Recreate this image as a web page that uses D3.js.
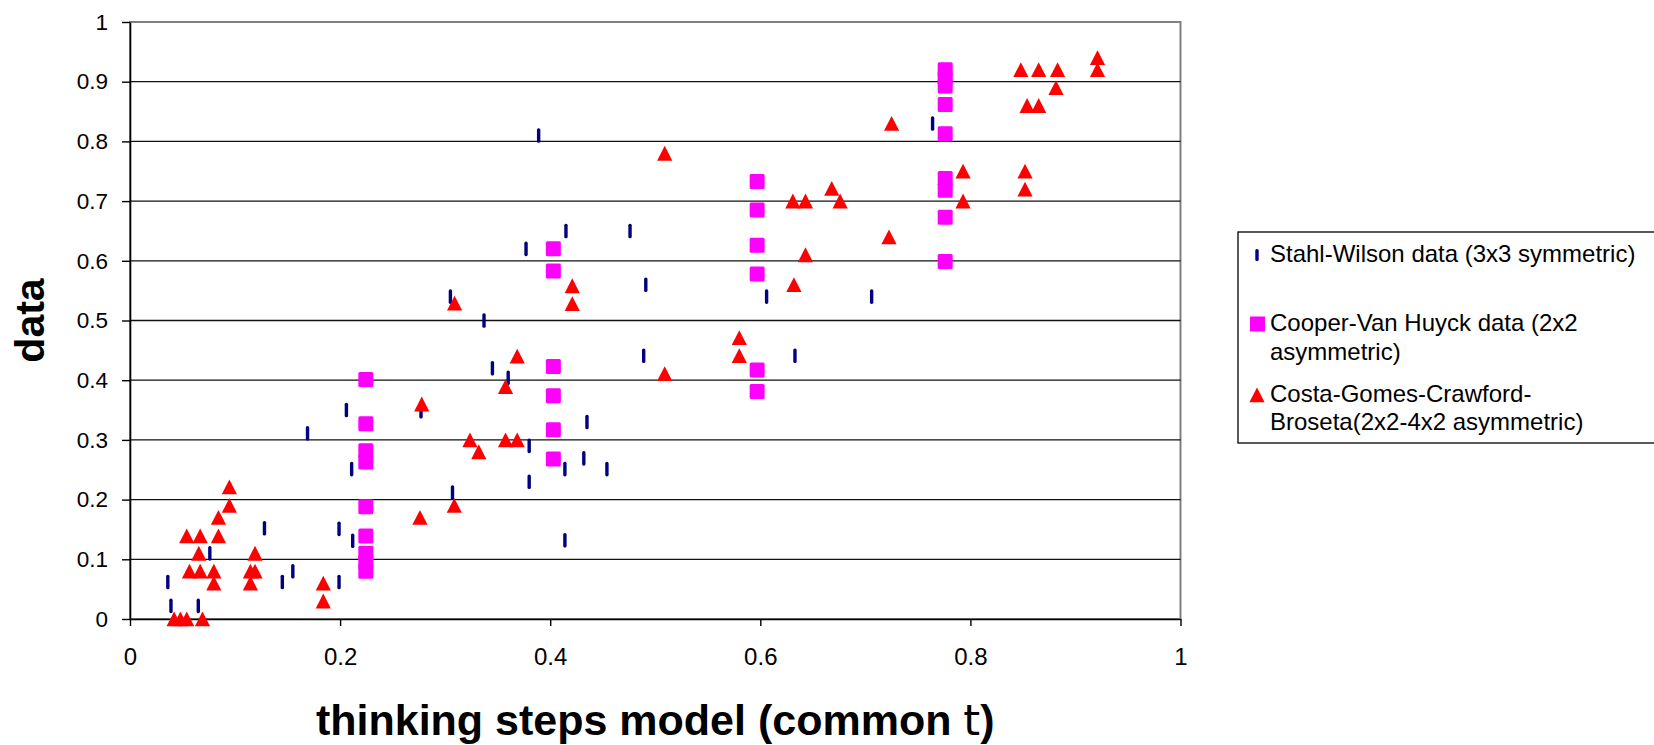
<!DOCTYPE html>
<html>
<head>
<meta charset="utf-8">
<script src="https://cdnjs.cloudflare.com/ajax/libs/d3/7.8.5/d3.min.js"></script>
<style>
  body { margin: 0; background: #fff; }
  text { font-family: Arial, "Liberation Sans", sans-serif; fill: #000; }
</style>
</head>
<body>
<div id="scatter"></div>
<script>
// x = thinking steps model (common t), y = observed data
var stahlX = [0.036, 0.039, 0.065, 0.076, 0.128, 0.145, 0.155, 0.169, 0.199, 0.199, 0.206, 0.211,
  0.212, 0.277, 0.305, 0.307, 0.337, 0.345, 0.360, 0.377, 0.380, 0.380, 0.389, 0.414, 0.414,
  0.415, 0.432, 0.435, 0.454, 0.476, 0.489, 0.491, 0.606, 0.633, 0.706, 0.764];
var stahlY = [0.062, 0.022, 0.022, 0.110, 0.152, 0.062, 0.080, 0.311, 0.151, 0.062, 0.350, 0.251,
  0.131, 0.348, 0.540, 0.212, 0.500, 0.420, 0.404, 0.620, 0.290, 0.230, 0.810, 0.251, 0.132,
  0.650, 0.269, 0.330, 0.251, 0.650, 0.441, 0.560, 0.540, 0.441, 0.540, 0.830];

var cooperX = [0.2245, 0.2245, 0.2245, 0.2245, 0.2245, 0.2245, 0.2245, 0.2245, 0.2245,
  0.403, 0.403, 0.403, 0.403, 0.403, 0.403,
  0.597, 0.597, 0.597, 0.597, 0.597, 0.597,
  0.776, 0.776, 0.776, 0.776, 0.776, 0.776, 0.776, 0.776, 0.776];
var cooperY = [0.401, 0.327, 0.282, 0.263, 0.188, 0.139, 0.110, 0.095, 0.080,
  0.620, 0.583, 0.423, 0.374, 0.317, 0.268,
  0.733, 0.685, 0.626, 0.578, 0.417, 0.381,
  0.920, 0.906, 0.893, 0.862, 0.813, 0.738, 0.718, 0.673, 0.599];

var costaX = [0.0946, 0.0946, 0.0842, 0.0842, 0.054, 0.0668, 0.0655, 0.119, 0.0566, 0.0668, 0.0798,
  0.1146, 0.119, 0.0798, 0.1146, 0.184, 0.184, 0.042, 0.048, 0.054, 0.069,
  0.276, 0.3087, 0.3236, 0.332, 0.3575, 0.3686, 0.2777, 0.3575, 0.3686, 0.309, 0.421, 0.421,
  0.725, 0.509, 0.668, 0.631, 0.643, 0.676, 0.7225, 0.643, 0.632, 0.580, 0.580, 0.509,
  0.921, 0.921, 0.848, 0.865, 0.883, 0.8815, 0.854, 0.865, 0.793, 0.852, 0.852, 0.793];
var costaY = [0.221, 0.190, 0.170, 0.139, 0.139, 0.139, 0.110, 0.110, 0.080, 0.080, 0.080,
  0.080, 0.080, 0.060, 0.060, 0.060, 0.030, 0, 0, 0, 0,
  0.170, 0.190, 0.300, 0.280, 0.300, 0.300, 0.360, 0.389, 0.440, 0.529, 0.558, 0.528,
  0.830, 0.780, 0.721, 0.700, 0.700, 0.700, 0.640, 0.610, 0.560, 0.471, 0.441, 0.411,
  0.940, 0.920, 0.920, 0.920, 0.920, 0.890, 0.860, 0.860, 0.750, 0.750, 0.720, 0.700];

var xTicks = [0, 0.2, 0.4, 0.6, 0.8, 1];
var yTicks = [0, 0.1, 0.2, 0.3, 0.4, 0.5, 0.6, 0.7, 0.8, 0.9, 1];

var legendLabels = [
  ["Stahl-Wilson data (3x3 symmetric)"],
  ["Cooper-Van Huyck data (2x2", "asymmetric)"],
  ["Costa-Gomes-Crawford-", "Broseta(2x2-4x2 asymmetric)"]
];

var svgWidth = 1654;
var svgHeight = 745;

var margin = { top: 22, left: 130 };
var width = 1050.5;
var height = 597;

var svg = d3.select("#scatter")
  .append("svg")
  .attr("width", svgWidth)
  .attr("height", svgHeight)
  .style("display", "block");

var chartGroup = svg.append("g")
  .attr("transform", `translate(${margin.left}, ${margin.top})`);

var xLinearScale = d3.scaleLinear().domain([0, 1]).range([0, width]);
var yLinearScale = d3.scaleLinear().domain([0, 1]).range([height, 0]);

// plot frame (grey, top + right show)
chartGroup.append("rect")
  .attr("x", 0)
  .attr("y", 0)
  .attr("width", width)
  .attr("height", height)
  .attr("fill", "none")
  .attr("stroke", "#808080")
  .attr("stroke-width", 2);

// horizontal gridlines
chartGroup.selectAll(".grid")
  .data(yTicks.filter(d => d > 0 && d < 1))
  .enter()
  .append("line")
  .attr("class", "grid")
  .attr("x1", 0)
  .attr("x2", width)
  .attr("y1", d => yLinearScale(d))
  .attr("y2", d => yLinearScale(d))
  .attr("stroke", "#111")
  .attr("stroke-width", 1.3);

// axes
var yAxis = d3.axisLeft(yLinearScale)
  .tickValues(yTicks)
  .tickFormat(d3.format("~g"))
  .tickSizeInner(8)
  .tickSizeOuter(0)
  .tickPadding(14);

var xAxis = d3.axisBottom(xLinearScale)
  .tickValues(xTicks)
  .tickFormat(d3.format("~g"))
  .tickSizeInner(7)
  .tickSizeOuter(0)
  .tickPadding(22);

var yAxisG = chartGroup.append("g").call(yAxis);
var xAxisG = chartGroup.append("g")
  .attr("transform", `translate(0, ${height})`)
  .call(xAxis);

[yAxisG, xAxisG].forEach(function(g) {
  g.select(".domain").attr("stroke", "#000").attr("stroke-width", 1.6);
  g.selectAll(".tick line").attr("stroke", "#000").attr("stroke-width", 1.4);
  g.selectAll("text").attr("fill", "#000").style("font-family", "Arial, 'Liberation Sans', sans-serif");
});
yAxisG.selectAll("text").style("font-size", "22.5px");
xAxisG.selectAll("text").style("font-size", "24px");

// Stahl-Wilson: navy dashes
chartGroup.selectAll(".stahl")
  .data(stahlX.map((x, i) => ({ x: x, y: stahlY[i] })))
  .enter()
  .append("rect")
  .attr("class", "stahl")
  .attr("x", d => xLinearScale(d.x) - 1.7)
  .attr("y", d => yLinearScale(d.y) - 7.3)
  .attr("width", 3.4)
  .attr("height", 14.6)
  .attr("rx", 1.6)
  .attr("fill", "#000080");

// Cooper-Van Huyck: magenta squares
chartGroup.selectAll(".cooper")
  .data(cooperX.map((x, i) => ({ x: x, y: cooperY[i] })))
  .enter()
  .append("rect")
  .attr("class", "cooper")
  .attr("x", d => xLinearScale(d.x) - 7.5)
  .attr("y", d => yLinearScale(d.y) - 7.5)
  .attr("width", 15)
  .attr("height", 15)
  .attr("rx", 1.5)
  .attr("fill", "#ff00ff");

// Costa-Gomes-Crawford-Broseta: red triangles
var tri = "M0,-7.5L7.6,7.3L-7.6,7.3Z";
chartGroup.selectAll(".costa")
  .data(costaX.map((x, i) => ({ x: x, y: costaY[i] })))
  .enter()
  .append("path")
  .attr("class", "costa")
  .attr("d", tri)
  .attr("transform", d => `translate(${xLinearScale(d.x)}, ${yLinearScale(d.y)})`)
  .attr("fill", "#ff0000");

// axis titles
var xTitle = svg.append("text")
  .attr("x", margin.left + width / 2)
  .attr("y", 735)
  .attr("text-anchor", "middle")
  .style("font-size", "43px")
  .style("font-weight", "bold");
xTitle.append("tspan").text("thinking steps model (common ");
xTitle.append("tspan").style("font-weight", "normal").style("font-family", "'DejaVu Sans', sans-serif").text("t");
xTitle.append("tspan").text(")");

svg.append("text")
  .attr("transform", `translate(44, ${margin.top + height / 2}) rotate(-90)`)
  .attr("text-anchor", "middle")
  .style("font-size", "41px")
  .style("font-weight", "bold")
  .text("data");

// legend
var legend = svg.append("g");
legend.append("rect")
  .attr("x", 1238)
  .attr("y", 232)
  .attr("width", 440)
  .attr("height", 211)
  .attr("fill", "#fff")
  .attr("stroke", "#000")
  .attr("stroke-width", 1.3);

var legendY = [255, 324, 395];
var legendBase = [[262], [331, 360], [402, 430]];

legend.append("rect")
  .attr("x", 1255.3).attr("y", legendY[0] - 6)
  .attr("width", 3.4).attr("height", 12).attr("rx", 1.6)
  .attr("fill", "#000080");
legend.append("rect")
  .attr("x", 1250).attr("y", legendY[1] - 7.5)
  .attr("width", 15).attr("height", 15)
  .attr("fill", "#ff00ff");
legend.append("path")
  .attr("d", tri)
  .attr("transform", `translate(1257, ${legendY[2]})`)
  .attr("fill", "#ff0000");

legendLabels.forEach(function(lines, i) {
  lines.forEach(function(line, j) {
    legend.append("text")
      .attr("x", 1270)
      .attr("y", legendBase[i][j])
      .style("font-size", "24px")
      .text(line);
  });
});
</script>
</body>
</html>
